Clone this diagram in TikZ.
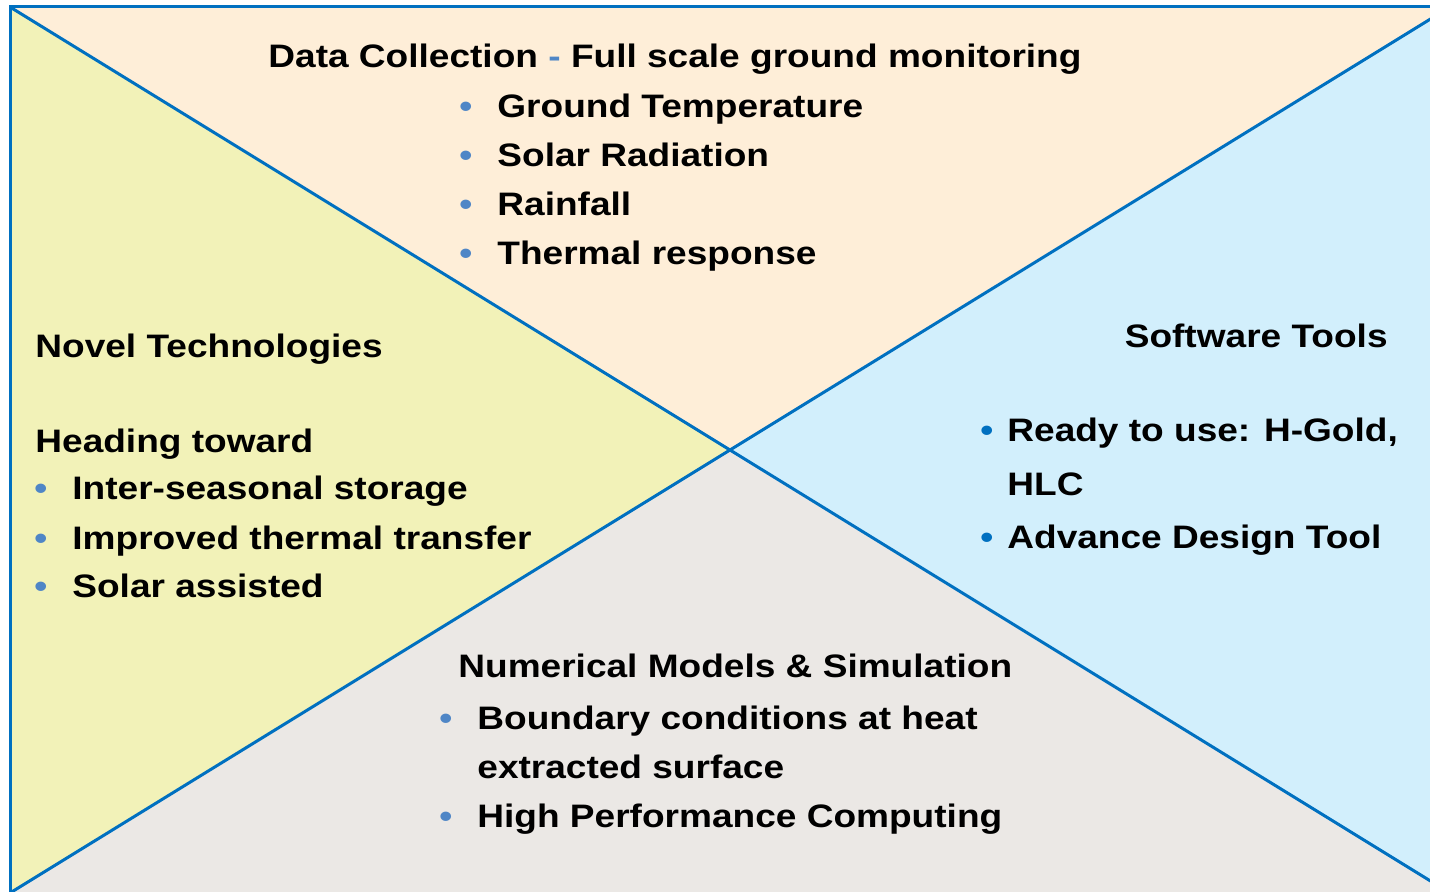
\documentclass[tikz,border=0pt]{standalone}
\usepackage{fontspec}
\setmainfont{Liberation Sans}[FakeStretch=1.14]
\usepackage{tikz}

\definecolor{topfill}{HTML}{FEEED8}
\definecolor{leftfill}{HTML}{F2F2B8}
\definecolor{rightfill}{HTML}{D2EFFC}
\definecolor{botfill}{HTML}{EBE8E5}
\definecolor{edgeblue}{HTML}{0070C0}
\definecolor{bltblue}{HTML}{4F86C6}

% bullet hung left of the text
\newcommand{\blt}{\llap{\textcolor{bltblue}{\textbullet}\hspace{12.5pt}}}
\newcommand{\bltdark}{\llap{\textcolor{edgeblue}{\textbullet}\hspace{7pt}}}

\begin{document}
\begin{tikzpicture}[x=0.5pt,y=-0.5pt]
\tikzstyle{txt}=[inner sep=0pt, anchor=base west, align=left,
                        font=\bfseries\fontsize{16.25}{24.5}\selectfont]
\tikzstyle{edge}=[draw=edgeblue, line width=1.5pt]
\useasboundingbox (0,0) rectangle (1430,892);
\clip (0,0) rectangle (1430,892);
	\coordinate (TL) at (10,7);
	\coordinate (TR) at (1450,7);
	\coordinate (BL) at (10,893);
	\coordinate (BR) at (1450,893);
	\coordinate (O) at (730,450);
\fill[topfill] (TL)--(TR)--(O)--cycle;
\fill[leftfill] (TL)--(O)--(BL)--cycle;
\fill[rightfill] (TR)--(O)--(BR)--cycle;
\fill[botfill] (BL)--(O)--(BR)--cycle;
\draw[edge] (TL) rectangle (BR);
\draw[edge] (TL)--(O)--(BR) (TR)--(O)--(BL);
% data collection (lists sit on their last baseline)
	\node[txt] (dctitle) at (268,68) {Data Collection \textcolor{bltblue}{-} Full scale ground monitoring};
	\node[txt] (dclist) at (497,265) {\blt Ground Temperature\\ \blt Solar Radiation\\ \blt Rainfall\\ \blt Thermal response};
% novel technologies
	\node[txt] (nttitle) at (35,358) {Novel Technologies};
	\node[txt] (ntsub) at (35,453) {Heading toward};
	\node[txt] (ntlist) at (72,598) {\blt Inter-seasonal storage\\ \blt Improved thermal transfer\\ \blt Solar assisted};
% software tools
	\node[txt, anchor=base east] (sttitle) at (1388,348) {Software Tools};
	\node[txt, font=\bfseries\fontsize{16.25}{26.75}\selectfont] (stlist) at (1007,549) {\bltdark Ready to use: H-Gold,\\ HLC\\ \bltdark Advance Design Tool};
% numerical models
	\node[txt] (nmtitle) at (458,678) {Numerical Models \& Simulation};
	\node[txt] (nmlist) at (477,827) {\blt Boundary conditions at heat\\ extracted surface\\ \blt High Performance Computing};
\end{tikzpicture}
\end{document}
